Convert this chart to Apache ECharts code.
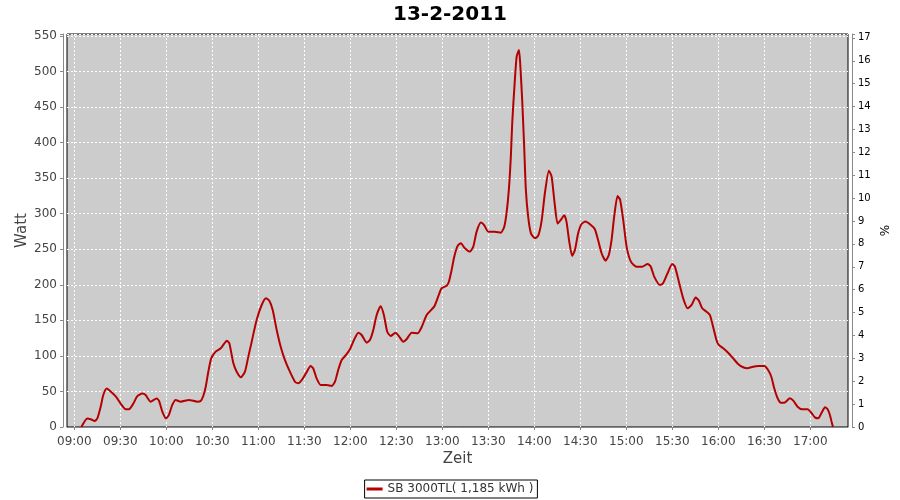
<!DOCTYPE html>
<html>
<head>
<meta charset="utf-8">
<script src="https://cdn.jsdelivr.net/npm/echarts@6/dist/echarts.min.js"></script>
<style>html,body{margin:0;padding:0;background:#fff}#c{width:900px;height:500px}</style>
</head>
<body>
<div id="c"></div>
<script>
// Chart data
const chartTitle = '13-2-2011';
const seriesName = 'SB 3000TL( 1,185 kWh )';
// minutes after 09:00
const minutesAfter0900 = [
  4.6, 8.5, 10.7, 13.3, 15, 17.2, 18.9, 21.1, 23.7, 27, 30.2, 33.5, 35.7, 38.5, 41, 44.3, 46.5, 49.8,
  53.7, 55.2, 57.4, 59.8, 61.7, 63.9, 66.1, 69.4, 74.8, 80.2, 82.4, 84.1, 85.7, 87.4, 89.3, 92.2,
  95.5, 97.6, 99.4, 101.1, 103.7, 105.9, 108.7, 111.3, 113.5, 115.7, 118.9, 122.2, 125, 127.2,
  129.4, 132, 134.6, 137.4, 140.6, 143.9, 146, 148.3, 151.1, 154.1, 155.8, 158, 160.7, 164.6,
  167.8, 170, 172.1, 174.3, 177.2, 179.8, 182.4, 185.2, 187.4, 190.7, 192.8, 195, 197.2, 199.8,
  201.9, 204.1, 206.3, 209.5, 211.8, 214.5, 216.7, 220, 223.9, 226.5, 229.8, 234.7, 236.9, 239.5,
  242.8, 244.3, 246.1, 247.8, 250, 252.1, 254.7, 258, 260.2, 262.4, 265.2, 267.3, 270, 274.3,
  278.2, 280.4, 281.9, 283.4, 284.7, 285.6, 286.9, 288.5, 290, 290.8, 292.1, 293.4, 294.5, 296,
  297.8, 300.4, 302.5, 304.7, 306.9, 309.5, 311.3, 313.2, 315.2, 317.3, 319.5, 321, 322.8, 324.7,
  326.5, 328.6, 330.8, 333.4, 336.9, 339.5, 341.6, 343.9, 346.5, 348.6, 350.4, 352.1, 354.3, 356,
  358, 360.2, 363, 366.7, 370.4, 373.9, 376, 378.2, 381.9, 384, 386.9, 389.9, 391.7, 394.3, 397.1,
  400, 402.6, 405.2, 407.3, 409.5, 412.3, 414.5, 416.6, 418.8, 420.3, 423.2, 426.4, 429.7, 432.9,
  436.2, 439, 442.7, 446, 449.9, 452.5, 454.7, 456.5, 458.7, 460.8, 463, 466.7, 468.9, 471.7,
  474.7, 478.3, 480.9, 483, 485.2, 487.4, 489.6, 491.3, 492.8, 493.9, 494.8
];
const watt = [
  0, 12, 11, 8.5, 12, 28.6, 45, 54, 50, 43, 33, 25, 25, 33, 43, 47, 45, 35.6,
  40, 37, 21.5, 12, 17, 31, 38, 35.6, 38, 35.6, 36.6, 43.6, 56.7, 77.8, 96.6, 106,
  110.7, 116.8, 121.4, 117.8, 90, 77.8, 70, 77.8, 99, 120, 150.5, 171.6, 181, 177.7,
  164.6, 136.5, 113, 94, 77.8, 63.7, 61.5, 66, 75.5, 85.8, 82.6, 68.5, 59, 59,
  57.7, 63.7, 80.2, 94, 101.3, 109.3, 122.4, 132.7, 129.4, 118.6, 122.4, 136.5, 157.6, 170,
  157.6, 134, 128, 132.7, 127.5, 120, 123.4, 132.7, 131.8, 140.3, 157.6, 169.3, 181, 195,
  198.8, 204.4, 221, 239.6, 254.7, 258.4, 251.4, 246.7, 253.7, 274.8, 287.5, 284, 274.8, 274.8,
  273.4, 281.8, 300.7, 333.5, 380.3, 427.3, 474, 521, 530.4, 511.7, 460, 394.4, 333.5, 296,
  272.5, 265.5, 268.7, 288.9, 328.8, 360.6, 352.2, 316, 286, 291.2, 298, 288.9, 260.7, 240.6,
  249, 272.5, 285.6, 288.9, 284, 278.2, 263.1, 244.4, 234, 242, 263.1, 296, 325, 319.4,
  291.2, 253.7, 232.6, 225.5, 225.5, 229.3, 225.5, 211.5, 199.8, 202.2, 216.3, 229.3, 225.5, 204.4, 181,
  167, 171.7, 182, 178, 167, 162.2, 157.6, 141.1, 122.4, 115.4, 110.7, 104.5, 96.6, 88.6,
  84, 82.6, 84.8, 85.8, 85.8, 80.2, 70, 54.4, 40.4, 34.2, 34.2, 40.4, 37, 28.6,
  24.9, 24.9, 19.3, 13.6, 12.2, 20.1, 27.7, 24.9, 16.9, 7.5, 0
];
const timeTicks = ['09:00','09:30','10:00','10:30','11:00','11:30','12:00','12:30','13:00','13:30','14:00','14:30','15:00','15:30','16:00','16:30','17:00'];
const wattRange = [0, 552.8];
const percentRange = [0, 17.17];
const timeRange = ['08:55:14', '17:24:36'];

function toMin(s) { const p = s.split(':').map(Number); return p[0] * 60 + p[1] + (p[2] || 0) / 60; }
function fmt(m) { const h = Math.floor(m / 60), mm = Math.round(m % 60); return (h < 10 ? '0' : '') + h + ':' + (mm < 10 ? '0' : '') + mm; }

const baseMin = toMin('09:00');
const points = minutesAfter0900.map((t, i) => [baseMin + t, watt[i]]);
const tickVals = timeTicks.map(toMin);

const FONT = 'DejaVu Sans';
const chart = echarts.init(document.getElementById('c'), null, { renderer: 'canvas' });
chart.setOption({
  animation: false,
  backgroundColor: '#ffffff',
  title: {
    text: chartTitle, left: 'center', top: 0,
    textStyle: { fontFamily: FONT, fontSize: 20, fontWeight: 'bold', color: '#000' }
  },
  legend: {
    data: [seriesName], left: 'center', bottom: 2,
    borderColor: '#000', borderWidth: 1, padding: [3, 4, 3, 2],
    icon: 'rect', itemWidth: 16, itemHeight: 3, itemGap: 5,
    textStyle: { fontFamily: FONT, fontSize: 12, color: '#333' }
  },
  grid: {
    left: 67, right: 52, top: 34, bottom: 73,
    show: true, backgroundColor: '#cccccc', borderColor: '#000', borderWidth: 1
  },
  xAxis: {
    type: 'value', min: toMin(timeRange[0]), max: toMin(timeRange[1]),
    offset: 4,
    name: 'Zeit', nameLocation: 'middle', nameGap: 21, nameMoveOverlap: false,
    nameTextStyle: { fontFamily: FONT, fontSize: 15, color: '#444' },
    axisLine: { show: true, lineStyle: { color: '#888', width: 1 } },
    axisTick: { show: true, length: 3, customValues: tickVals, lineStyle: { color: '#888' } },
    axisLabel: { customValues: tickVals, formatter: fmt, margin: 5, fontFamily: FONT, fontSize: 12, color: '#444' },
    splitLine: { show: true, lineStyle: { color: '#ffffff', type: [2, 2], width: 1 } }
  },
  yAxis: [{
    type: 'value', min: wattRange[0], max: wattRange[1], interval: 50,
    position: 'left', offset: 4,
    name: 'Watt', nameLocation: 'middle', nameGap: 33, nameMoveOverlap: false,
    nameTextStyle: { fontFamily: FONT, fontSize: 15, color: '#444' },
    axisLine: { show: true, lineStyle: { color: '#888', width: 1 } },
    axisTick: { show: true, length: 3, lineStyle: { color: '#888' } },
    axisLabel: { margin: 6, fontFamily: FONT, fontSize: 12, color: '#444',
      formatter: v => (Math.abs(v % 50) < 1e-6 ? String(v) : '') },
    splitLine: { show: true, lineStyle: { color: '#ffffff', type: [2, 2], width: 1 } }
  }, {
    type: 'value', min: percentRange[0], max: percentRange[1], interval: 1,
    position: 'right', offset: 4,
    name: '%', nameLocation: 'middle', nameGap: 28, nameRotate: 90, nameMoveOverlap: false,
    nameTextStyle: { fontFamily: FONT, fontSize: 12, color: '#000' },
    axisLine: { show: true, lineStyle: { color: '#888', width: 1 } },
    axisTick: { show: true, length: 3, lineStyle: { color: '#888' } },
    axisLabel: { margin: 6, fontFamily: FONT, fontSize: 10, color: '#000',
      formatter: v => (Math.abs(v - Math.round(v)) < 1e-6 ? String(Math.round(v)) : '') },
    splitLine: { show: false }
  }],
  series: [{
    name: seriesName, type: 'line', yAxisIndex: 0,
    data: points, showSymbol: false, symbol: 'none', smooth: 0.2,
    lineStyle: { color: '#b40000', width: 2 }, itemStyle: { color: '#b40000' }
  }]
});
</script>
</body>
</html>
